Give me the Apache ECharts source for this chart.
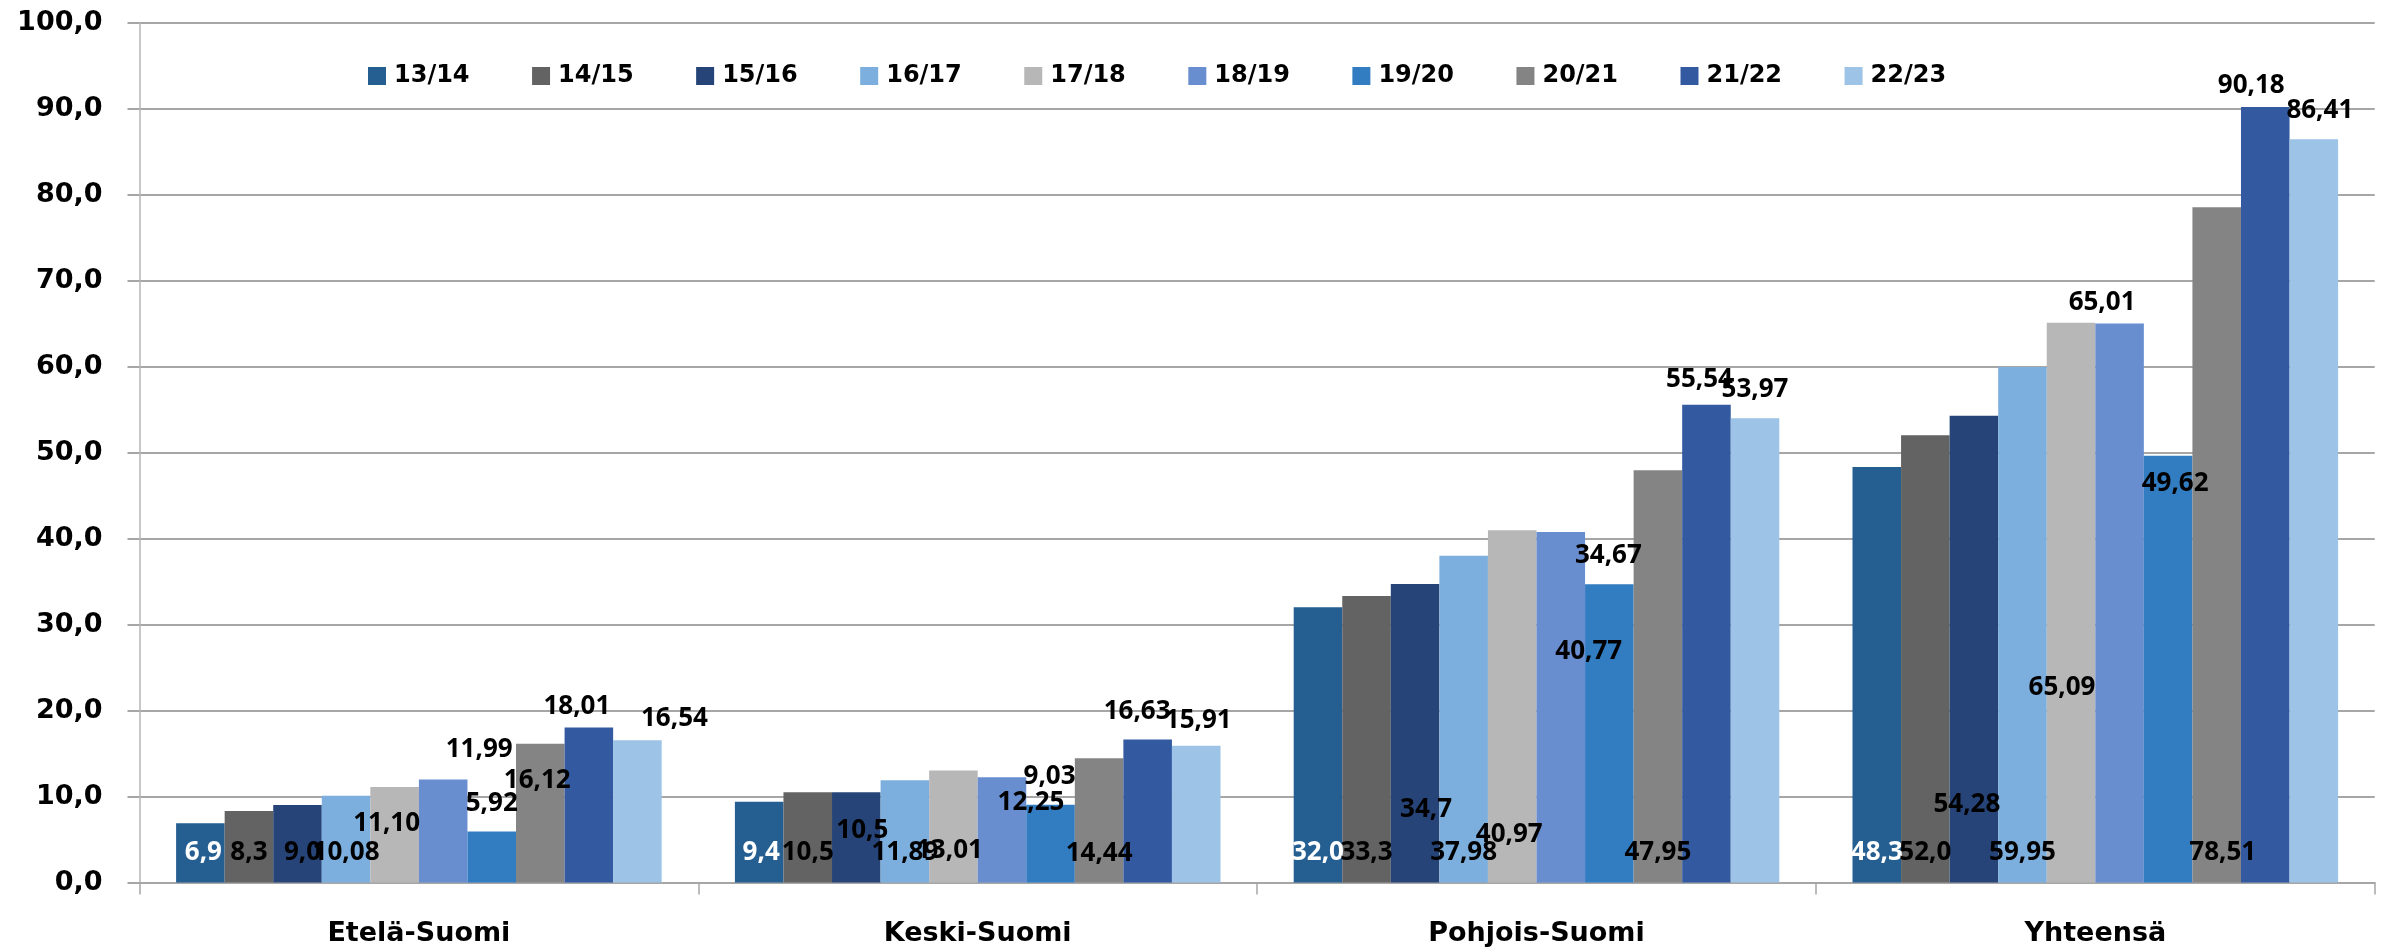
<!DOCTYPE html>
<html>
<head>
<meta charset="utf-8">
<script src="https://cdn.jsdelivr.net/npm/echarts@6/dist/echarts.min.js"></script>
<style>
  html, body { margin: 0; padding: 0; background: #fff; }
  #chart { width: 2384px; height: 952px; }
</style>
</head>
<body>
<div id="chart"></div>
<script>
// alueet ja lukuvuodet
const alueet = ['Etelä-Suomi', 'Keski-Suomi', 'Pohjois-Suomi', 'Yhteensä'];
const kaudet = ['13/14', '14/15', '15/16', '16/17', '17/18', '18/19', '19/20', '20/21', '21/22', '22/23'];

// arvot kuten ne näkyvät kuvassa (desimaalipilkku)
const v1314 = ['6,9', '9,4', '32,0', '48,3'];
const v1415 = ['8,3', '10,5', '33,3', '52,0'];
const v1516 = ['9,0', '10,5', '34,7', '54,28'];
const v1617 = ['10,08', '11,89', '37,98', '59,95'];
const v1718 = ['11,10', '13,01', '40,97', '65,09'];
const v1819 = ['11,99', '12,25', '40,77', '65,01'];
const v1920 = ['5,92', '9,03', '34,67', '49,62'];
const v2021 = ['16,12', '14,44', '47,95', '78,51'];
const v2122 = ['18,01', '16,63', '55,54', '90,18'];
const v2223 = ['16,54', '15,91', '53,97', '86,41'];
const arvot = [v1314, v1415, v1516, v1617, v1718, v1819, v1920, v2021, v2122, v2223];

const yTicks = [0, 10, 20, 30, 40, 50, 60, 70, 80, 90, 100];

const varit = ['#255E91', '#636363', '#264478', '#7CAFDD', '#B7B7B7',
               '#698ED0', '#327DC2', '#848484', '#335AA1', '#9DC3E6'];

// label spots: [anchor (t = bar top, b = bar base), dx, dy]
const labelSpots = [
  [['b', 3, -29.5], ['b', 2, -29.5], ['b', 0, -29.5], ['b', 0, -29.5]],
  [['b', 0, -29.5], ['b', 0, -29.5], ['b', 0, -29.5], ['b', 0, -29.5]],
  [['b', 5, -29.5], ['b', 6, -52], ['b', 11, -72.5], ['b', -7, -77.5]],
  [['b', 0, -29.5], ['b', 0, -29.5], ['b', 0, -29.5], ['b', 0, -29.5]],
  [['b', -8, -58.5], ['b', -4, -32], ['b', -3, -47.5], ['b', -9, -195]],
  [['t', 36, -30], ['t', 29, 25.5], ['t', 28, 120], ['t', -17.5, -21]],
  [['t', 0, -28], ['t', -1, -28], ['t', -1, -29], ['t', 7, 28]],
  [['t', -3, 37], ['b', 0, -29], ['b', 0, -29.5], ['b', 6, -29.5]],
  [['t', -12, -21], ['t', -10.5, -28], ['t', -7, -25], ['t', -14, -21]],
  [['t', 37, -22], ['t', 2, -25], ['t', 0, -29], ['t', 6, -29]]
];

const toNum = s => parseFloat(s.replace(',', '.'));

const series = kaudet.map((kausi, i) => ({
  name: kausi,
  type: 'bar',
  barGap: '0%',
  barCategoryGap: '13.1%',
  itemStyle: { color: varit[i] },
  data: arvot[i].map((txt, j) => {
    const spot = labelSpots[i][j];
    return {
      value: toNum(txt),
      label: {
        show: true,
        position: ['50%', spot[0] === 't' ? '0%' : '100%'],
        offset: [spot[1], spot[2]],
        align: 'center',
        verticalAlign: 'middle',
        formatter: () => txt,
        fontFamily: 'Open Sans',
        fontWeight: 'bold',
        fontSize: 26,
        color: i === 0 ? '#ffffff' : '#000000'
      }
    };
  })
}));

const chart = echarts.init(document.getElementById('chart'));
chart.setOption({
  animation: false,
  backgroundColor: '#ffffff',
  grid: { left: 139.5, right: 9.3, top: 22.5, bottom: 69.5, containLabel: false },
  legend: {
    data: kaudet,
    left: 363,
    top: 59,
    icon: 'rect',
    itemWidth: 18,
    itemHeight: 18,
    itemGap: 62.5,
    textStyle: {
      fontFamily: 'DejaVu Sans',
      fontWeight: 'bold',
      fontSize: 24,
      color: '#000',
      padding: [0, 0, 0, 3]
    }
  },
  xAxis: {
    type: 'category',
    data: alueet,
    axisLine: { show: true, lineStyle: { color: '#a6a6a6', width: 2 } },
    axisTick: { show: true, length: 12, lineStyle: { color: '#a6a6a6', width: 1.5 } },
    axisLabel: {
      margin: 38,
      fontFamily: 'DejaVu Sans',
      fontWeight: 'bold',
      fontSize: 27,
      color: '#000'
    }
  },
  yAxis: {
    type: 'value',
    min: yTicks[0],
    max: yTicks[yTicks.length - 1],
    interval: 10,
    axisLine: { show: true, lineStyle: { color: '#b4b4b4', width: 1.5 } },
    axisTick: { show: true, length: 12, lineStyle: { color: '#a6a6a6', width: 2 } },
    splitLine: { show: true, lineStyle: { color: '#a6a6a6', width: 2 } },
    axisLabel: {
      margin: 37,
      fontFamily: 'DejaVu Sans',
      fontWeight: 'bold',
      fontSize: 27,
      color: '#000',
      formatter: v => v.toFixed(1).replace('.', ',')
    }
  },
  series: series
});
</script>
</body>
</html>
